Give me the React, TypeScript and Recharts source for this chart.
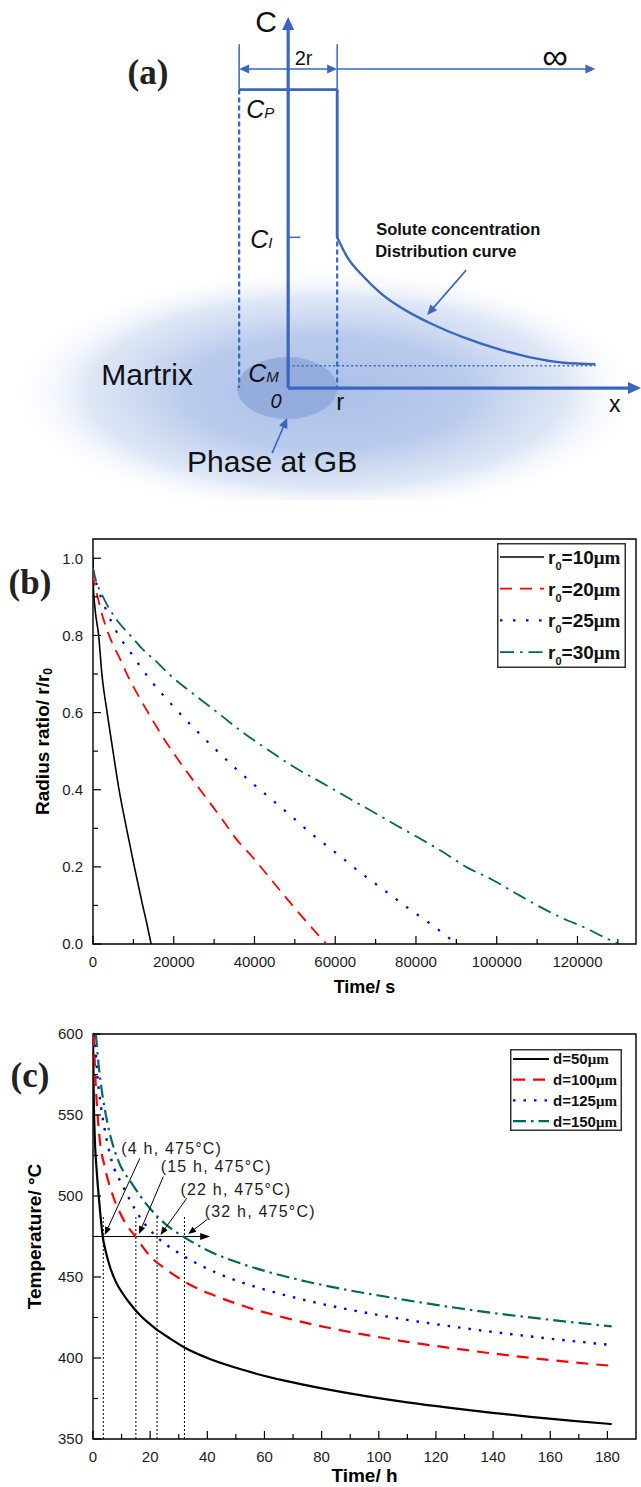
import React from 'react';
import {
  LineChart,
  Line,
  XAxis,
  YAxis,
  ReferenceLine,
  ReferenceDot,
  ReferenceArea,
} from 'recharts';

const SANS = '"Liberation Sans", Arial, Helvetica, sans-serif';
const SERIF = '"Liberation Serif", "Times New Roman", serif';
const BLUE = '#3a66c2';
const INK = '#1c1c1c';

// ---------- (a) schematic: x in units of r, C in units of C_P ----------
const C_P = 1;
const C_I = 0.505;
const C_M = 0.075;
const R = 1;
const C_AXIS_TOP = 1.243;
const X_AXIS_END = 7.2;
const SPAN_LEVEL = 1.069;
const SPAN_TICK_TOP = 1.152;
const INF_END = 6.27;

const SOLUTE_X = [1, 1.2, 1.54, 1.88, 2.22, 2.56, 2.9, 3.24, 3.58, 4.26, 4.94, 5.62, 6.27];
const SOLUTE_C = [0.505, 0.44, 0.373, 0.319, 0.278, 0.245, 0.217, 0.192, 0.17, 0.132, 0.103, 0.085, 0.08];

// ---------- (b) radius ratio vs time ----------
const B_RADII = [10, 20, 25, 30];
const R10_T = [0, 80, 500, 1400, 2200, 3500, 4950, 6450, 8300, 10250, 12300, 13400, 14400];
const R10_V = [1.0, 0.93, 0.87, 0.8, 0.7, 0.6, 0.5, 0.4, 0.3, 0.2, 0.1, 0.05, 0];
const R20_T = [0, 400, 1000, 2500, 4100, 6600, 8900, 11600, 14500, 17200, 20800, 24400, 28100, 31800, 35500, 39700, 43800, 47900, 52100, 55500, 57800];
const R20_V = [0.96, 0.93, 0.905, 0.845, 0.797, 0.741, 0.689, 0.637, 0.585, 0.538, 0.482, 0.43, 0.378, 0.326, 0.272, 0.223, 0.171, 0.119, 0.067, 0.027, 0];
const R25_T = [0, 830, 2900, 5800, 9700, 14000, 19200, 24600, 30600, 36400, 42400, 48400, 54100, 60100, 66000, 71800, 77800, 83600, 86600, 90000];
const R25_V = [0.97, 0.935, 0.875, 0.81, 0.75, 0.687, 0.624, 0.564, 0.502, 0.445, 0.391, 0.338, 0.286, 0.237, 0.187, 0.142, 0.095, 0.052, 0.029, 0];
const R30_T = [0, 800, 2070, 3300, 6200, 9500, 12400, 15700, 19000, 24400, 30600, 36800, 43400, 49600, 56200, 63500, 69300, 75100, 80900, 86600, 92400, 99000, 104800, 110600, 116300, 122100, 127100, 130200];
const R30_V = [0.975, 0.94, 0.909, 0.883, 0.836, 0.797, 0.763, 0.732, 0.698, 0.652, 0.602, 0.551, 0.503, 0.46, 0.421, 0.377, 0.343, 0.308, 0.274, 0.239, 0.2, 0.166, 0.131, 0.097, 0.067, 0.041, 0.015, 0];

const B_X_TICKS = [0, 10000, 20000, 30000, 40000, 50000, 60000, 70000, 80000, 90000, 100000, 110000, 120000, 130000];
const B_X_LABELS = [0, 20000, 40000, 60000, 80000, 100000, 120000];
const B_Y_TICKS = [0, 0.1, 0.2, 0.3, 0.4, 0.5, 0.6, 0.7, 0.8, 0.9, 1.0];
const B_Y_LABELS = [0, 0.2, 0.4, 0.6, 0.8, 1.0];
const B_X_MAX = 134500;
const B_Y_MAX = 1.05;

// ---------- (c) temperature vs time ----------
const C_SIZES = [50, 100, 125, 150];
const D50_H = [0, 0.2, 0.6, 1.2, 1.8, 2.5, 3.4, 4.5, 5.9, 8, 10.5, 13, 16.4, 22, 27, 32, 40, 53, 67, 82, 96, 110, 125, 139, 153, 168, 181.5];
const D50_T = [600, 568, 537, 518, 504, 490, 475, 465.5, 456.5, 447, 439.5, 433.5, 426.5, 418, 412, 406.5, 400, 392.4, 386, 380.6, 376.3, 372.6, 369.2, 366.3, 363.7, 361.2, 359.2];
const D100_H = [0.3, 0.7, 1.2, 2.35, 4.1, 7, 10.5, 15, 20, 26.3, 32.8, 43.3, 53, 67, 82, 96, 110, 125, 139, 153, 168, 181.5];
const D100_T = [600, 578, 561, 535, 518, 500, 486, 474.5, 462.8, 453.8, 446.3, 438, 431.9, 424.9, 418.8, 414.1, 410, 406.2, 403, 400.1, 397.3, 395.2];
const D125_H = [0.6, 1.5, 2.35, 4.1, 6.5, 10.5, 16.4, 22.5, 29.3, 37.4, 48, 60.8, 75, 89, 100, 110, 125, 139, 153, 167, 181.5];
const D125_T = [600, 575, 561, 541, 522, 506, 487, 474.5, 465.6, 457.4, 449.2, 441.9, 435.4, 430.1, 426.5, 423.5, 419.6, 416.3, 413.3, 410.6, 408];
const D150_H = [1.0, 1.9, 2.9, 5.3, 8.8, 13.5, 19.9, 25.8, 32, 39.8, 51.5, 63, 75, 89, 100, 120, 140, 160, 181.5];
const D150_T = [600, 582, 567.5, 543, 522, 508, 492.4, 482, 474.5, 466.7, 458.5, 452.3, 447.1, 442, 438.6, 432.8, 427.8, 423.6, 419.5];

const C_X_TICKS = [0, 10, 20, 30, 40, 50, 60, 70, 80, 90, 100, 110, 120, 130, 140, 150, 160, 170, 180];
const C_X_LABELS = [0, 20, 40, 60, 80, 100, 120, 140, 160, 180];
const C_Y_TICKS = [350, 375, 400, 425, 450, 475, 500, 525, 550, 575, 600];
const C_Y_LABELS = [350, 400, 450, 500, 550, 600];
const C_X_MAX = 190;

// dissolution-end marks at 475 °C
const MARK_TEMP = 475;
const MARK_HOURS = [3.6, 15, 22.4, 32];
const MARK_TOP = 488;
const MARK_ARROW_END = 41;
const MARK_LABELS = ['(4 h, 475°C)', '(15 h, 475°C)', '(22 h, 475°C)', '(32 h, 475°C)'];
const MARK_LABEL_H = [9.9, 23.7, 30.6, 39.1];
const MARK_LABEL_T = [529.4, 518.1, 504.1, 490.7];
const POINTER_FROM_H = [16.4, 24.6, 32.8, 40];
const POINTER_FROM_T = [523.3, 512, 498.6, 485.6];
const POINTER_TO_H = [4.1, 16.1, 23.6, 33.3];
const POINTER_TO_T = [476, 476.5, 476, 476.5];

type Pt = { x: number; y: number };
const zip = (xs: number[], ys: number[]): Pt[] => xs.map((x, i) => ({ x, y: ys[i] }));

type LineStyle = { color: string; width: number; dash?: string };
const B_STYLES: LineStyle[] = [
  { color: '#000000', width: 1.6 },
  { color: '#ff0000', width: 1.8, dash: '12 8' },
  { color: '#0000ff', width: 2.2, dash: '2.5 10.5' },
  { color: '#00695a', width: 1.8, dash: '14 6 2.5 6' },
];
const C_STYLES: LineStyle[] = [
  { color: '#000000', width: 2.2 },
  { color: '#ff0000', width: 2.2, dash: '12 8' },
  { color: '#0000ff', width: 2.4, dash: '2.5 8' },
  { color: '#00695a', width: 2.2, dash: '13 5 2.5 5' },
];

// ---------- helpers ----------
type ArrowOpts = { color: string; width: number; dash?: string; start?: boolean; end?: boolean; len?: number; half?: number };

function arrowShape(o: ArrowOpts) {
  const len = o.len ?? 10;
  const half = o.half ?? 4;
  return (p: any) => {
    const { x1, y1, x2, y2 } = p;
    const d = Math.hypot(x2 - x1, y2 - y1) || 1;
    const ux = (x2 - x1) / d;
    const uy = (y2 - y1) / d;
    const head = (tx: number, ty: number, sx: number, sy: number) => {
      const bx = tx - sx * len;
      const by = ty - sy * len;
      return `${tx},${ty} ${bx - sy * half},${by + sx * half} ${bx + sy * half},${by - sx * half}`;
    };
    const ax = o.start ? x1 + ux * len * 0.7 : x1;
    const ay = o.start ? y1 + uy * len * 0.7 : y1;
    const bx = o.end ? x2 - ux * len * 0.7 : x2;
    const by = o.end ? y2 - uy * len * 0.7 : y2;
    return (
      <g>
        <line x1={ax} y1={ay} x2={bx} y2={by} stroke={o.color} strokeWidth={o.width} strokeDasharray={o.dash} />
        {o.end && <polygon points={head(x2, y2, ux, uy)} fill={o.color} />}
        {o.start && <polygon points={head(x1, y1, -ux, -uy)} fill={o.color} />}
      </g>
    );
  };
}

function seg(key: string, x1: number, y1: number, x2: number, y2: number, o: ArrowOpts) {
  return (
    <ReferenceLine
      key={key}
      segment={[{ x: x1, y: y1 }, { x: x2, y: y2 }]}
      ifOverflow="visible"
      shape={arrowShape(o)}
    />
  );
}

function textAt(key: string, x: number, y: number, render: (cx: number, cy: number) => React.ReactElement) {
  return <ReferenceDot key={key} x={x} y={y} r={1} ifOverflow="visible" shape={(p: any) => render(p.cx, p.cy)} />;
}

function makeBottomTick(labels: number[], fmt: (v: number) => string) {
  return (p: any) => {
    const { x, y, payload } = p;
    const major = labels.includes(payload.value);
    return (
      <g>
        <line x1={x} x2={x} y1={y} y2={y - (major ? 8 : 5)} stroke="#000" strokeWidth={1.2} />
        {major && (
          <text x={x} y={y + 23} textAnchor="middle" fontSize={15} fontFamily={SANS} fill={INK}>
            {fmt(payload.value)}
          </text>
        )}
      </g>
    );
  };
}

function makeLeftTick(labels: number[], fmt: (v: number) => string) {
  return (p: any) => {
    const { x, y, payload } = p;
    const major = labels.includes(payload.value);
    return (
      <g>
        <line x1={x} x2={x + (major ? 8 : 5)} y1={y} y2={y} stroke="#000" strokeWidth={1.2} />
        {major && (
          <text x={x - 10} y={y} dy="0.36em" textAnchor="end" fontSize={15} fontFamily={SANS} fill={INK}>
            {fmt(payload.value)}
          </text>
        )}
      </g>
    );
  };
}

// ---------- (a) ----------
// ellipses are drawn inside the box that the reference area spans
function blobShape(p: any) {
  return (
    <g>
      <defs>
        <radialGradient id="matrixBlob" cx="50%" cy="50%" r="50%">
          <stop offset="0%" stopColor="#a6bce6" stopOpacity={0.95} />
          <stop offset="45%" stopColor="#b0c4ea" stopOpacity={0.88} />
          <stop offset="75%" stopColor="#c4d3ef" stopOpacity={0.55} />
          <stop offset="100%" stopColor="#ffffff" stopOpacity={0} />
        </radialGradient>
      </defs>
      <ellipse cx={p.x + p.width / 2} cy={p.y + p.height / 2} rx={p.width / 2} ry={p.height / 2} fill="url(#matrixBlob)" />
    </g>
  );
}

function phaseShape(p: any) {
  return (
    <ellipse
      cx={p.x + p.width / 2}
      cy={p.y + p.height / 2}
      rx={p.width / 2}
      ry={p.height / 2}
      fill="#8ea8da"
      fillOpacity={0.85}
    />
  );
}

function Schematic() {
  const thick = { color: BLUE, width: 3.2, len: 13, half: 6 };
  const rim = { color: BLUE, width: 2.8 };
  const dashed = { color: BLUE, width: 2.2, dash: '5 3' };
  const thin = { color: BLUE, width: 1.6, len: 10, half: 4.5 };
  const sub = (main: string, s: string, cx: number, cy: number) => (
    <text x={cx} y={cy} fontFamily={SANS} fontStyle="italic" fontSize={25} fill="#111">
      {main}
      <tspan fontSize={15}>{s}</tspan>
    </text>
  );
  return (
    <LineChart width={641} height={500} margin={{ top: 0, right: 0, bottom: 0, left: 0 }}>
      <XAxis type="number" dataKey="x" domain={[-5.88, 7.2]} hide allowDataOverflow />
      <YAxis type="number" domain={[-0.375, 1.3]} hide allowDataOverflow />
      <ReferenceArea x1={-5.7} x2={7.3} y1={-0.44} y2={0.41} ifOverflow="visible" shape={blobShape} />
      <ReferenceArea x1={-1.04} x2={1.0} y1={-0.104} y2={0.104} ifOverflow="visible" shape={phaseShape} />

      {seg('lDash', -R, C_P, -R, 0, dashed)}
      {seg('rDash', R, C_P, R, 0, dashed)}
      {seg('cm', 0, C_M, INF_END, C_M, { color: BLUE, width: 1.5, dash: '2 2.5' })}
      {seg('top', -R, C_P, R, C_P, rim)}
      {seg('rSolid', R, C_P, R, C_I, rim)}
      {seg('lTick', -R, C_P, -R, SPAN_TICK_TOP, { color: BLUE, width: 1.5 })}
      {seg('rTick', R, C_P, R, SPAN_TICK_TOP, { color: BLUE, width: 1.5 })}
      {seg('span', -R, SPAN_LEVEL, R, SPAN_LEVEL, { ...thin, start: true, end: true })}
      {seg('inf', R, SPAN_LEVEL, INF_END, SPAN_LEVEL, { ...thin, end: true })}
      {seg('ci', 0, C_I, 0.25, C_I, { color: BLUE, width: 1.5 })}
      {seg('cAxis', 0, 0, 0, C_AXIS_TOP, { ...thick, end: true })}
      {seg('xAxis', 0, 0, X_AXIS_END, 0, { ...thick, end: true })}
      {seg('curvePtr', 3.633, 0.395, 2.837, 0.245, { ...thin, end: true })}
      {seg('phasePtr', -0.327, -0.218, -0.02, -0.1005, { ...thin, end: true })}

      <Line
        data={zip(SOLUTE_X, SOLUTE_C)}
        dataKey="y"
        type="monotone"
        stroke={BLUE}
        strokeWidth={2.4}
        dot={false}
        activeDot={false}
        isAnimationActive={false}
      />

      {textAt('C', -0.449, 1.229, (cx, cy) => (
        <text x={cx} y={cy} textAnchor="middle" dominantBaseline="central" fontFamily={SANS} fontSize={30} fill="#111">C</text>
      ))}
      {textAt('2r', 0.316, 1.107, (cx, cy) => (
        <text x={cx} y={cy} textAnchor="middle" dominantBaseline="central" fontFamily={SANS} fontSize={20} fill="#111">2r</text>
      ))}
      {textAt('inf', 5.449, 1.111, (cx, cy) => (
        <text x={cx} y={cy} textAnchor="middle" dominantBaseline="central" fontFamily={SANS} fontSize={36} fill="#111">∞</text>
      ))}
      {textAt('cp', -0.857, 0.9045, (cx, cy) => sub('C', 'P', cx, cy))}
      {textAt('ci', -0.776, 0.469, (cx, cy) => sub('C', 'I', cx, cy))}
      {textAt('cm', -0.816, 0.02, (cx, cy) => sub('C', 'M', cx, cy))}
      {textAt('o', -0.245, -0.067, (cx, cy) => (
        <text x={cx} y={cy} textAnchor="middle" fontFamily={SANS} fontStyle="italic" fontSize={20} fill="#111">0</text>
      ))}
      {textAt('r', 1.061, -0.0737, (cx, cy) => (
        <text x={cx} y={cy} textAnchor="middle" fontFamily={SANS} fontSize={24} fill="#111">r</text>
      ))}
      {textAt('x', 6.663, -0.0804, (cx, cy) => (
        <text x={cx} y={cy} textAnchor="middle" fontFamily={SANS} fontSize={23} fill="#111">x</text>
      ))}
      {textAt('matrix', -2.878, 0.01, (cx, cy) => (
        <text x={cx} y={cy} textAnchor="middle" fontFamily={SANS} fontSize={30} fill="#111">Martrix</text>
      ))}
      {textAt('phase', -0.327, -0.281, (cx, cy) => (
        <text x={cx} y={cy} textAnchor="middle" fontFamily={SANS} fontSize={30} fill="#111">Phase at GB</text>
      ))}
      {textAt('solute', 1.796, 0.5126, (cx, cy) => (
        <text x={cx} y={cy} fontFamily={SANS} fontWeight="bold" fontSize={16.5} fill="#111">Solute concentration</text>
      ))}
      {textAt('dist', 1.776, 0.4389, (cx, cy) => (
        <text x={cx} y={cy} fontFamily={SANS} fontWeight="bold" fontSize={16.5} fill="#111">Distribution curve</text>
      ))}
    </LineChart>
  );
}

// ---------- (b) ----------
function ShrinkChart() {
  const series = [zip(R10_T, R10_V), zip(R20_T, R20_V), zip(R25_T, R25_V), zip(R30_T, R30_V)];
  return (
    <LineChart width={641} height={500} margin={{ top: 39, right: 5, bottom: 0, left: 0 }}>
      <XAxis
        type="number"
        dataKey="x"
        domain={[0, B_X_MAX]}
        ticks={B_X_TICKS}
        interval={0}
        height={56}
        axisLine={false}
        tickLine={false}
        tickSize={0}
        tickMargin={0}
        allowDataOverflow
        tick={makeBottomTick(B_X_LABELS, (v) => String(v))}
        label={{
          content: (p: any) => (
            <text
              x={p.viewBox.x + p.viewBox.width / 2}
              y={p.viewBox.y + 49}
              textAnchor="middle"
              fontFamily={SANS}
              fontWeight="bold"
              fontSize={18}
              fill="#000"
            >
              Time/ s
            </text>
          ),
        }}
      />
      <YAxis
        type="number"
        domain={[0, B_Y_MAX]}
        ticks={B_Y_TICKS}
        interval={0}
        width={93}
        axisLine={false}
        tickLine={false}
        tickSize={0}
        tickMargin={0}
        allowDataOverflow
        tick={makeLeftTick(B_Y_LABELS, (v) => v.toFixed(1))}
        label={{
          content: (p: any) => (
            <text
              transform={`translate(${p.viewBox.x + 42}, ${p.viewBox.y + p.viewBox.height / 2}) rotate(-90)`}
              textAnchor="middle"
              dominantBaseline="central"
              fontFamily={SANS}
              fontWeight="bold"
              fontSize={19}
              fill="#000"
            >
              Radius ratio/ r/r
              <tspan fontSize={12} dy={6}>0</tspan>
            </text>
          ),
        }}
      />
      <ReferenceArea x1={0} x2={B_X_MAX} y1={0} y2={B_Y_MAX} fill="none" stroke="#000" strokeWidth={1.4} ifOverflow="visible" />
      {series.map((d, i) => (
        <Line
          key={B_RADII[i]}
          data={d}
          dataKey="y"
          type="monotone"
          stroke={B_STYLES[i].color}
          strokeWidth={B_STYLES[i].width}
          strokeDasharray={B_STYLES[i].dash}
          dot={false}
          activeDot={false}
          isAnimationActive={false}
        />
      ))}
    </LineChart>
  );
}

// ---------- (c) ----------
function TempChart() {
  const series = [zip(D50_H, D50_T), zip(D100_H, D100_T), zip(D125_H, D125_T), zip(D150_H, D150_T)];
  const black = { color: '#000', width: 1 };
  const pointer = { color: '#000', width: 1, end: true, len: 8, half: 3.2 };
  return (
    <LineChart width={641} height={487} margin={{ top: 34, right: 5, bottom: 0, left: 0 }}>
      <XAxis
        type="number"
        dataKey="x"
        domain={[0, C_X_MAX]}
        ticks={C_X_TICKS}
        interval={0}
        height={48}
        axisLine={false}
        tickLine={false}
        tickSize={0}
        tickMargin={0}
        allowDataOverflow
        tick={makeBottomTick(C_X_LABELS, (v) => String(v))}
        label={{
          content: (p: any) => (
            <text
              x={p.viewBox.x + p.viewBox.width / 2}
              y={p.viewBox.y + 43}
              textAnchor="middle"
              fontFamily={SANS}
              fontWeight="bold"
              fontSize={19}
              fill="#000"
            >
              Time/ h
            </text>
          ),
        }}
      />
      <YAxis
        type="number"
        domain={[350, 600]}
        ticks={C_Y_TICKS}
        interval={0}
        width={93}
        axisLine={false}
        tickLine={false}
        tickSize={0}
        tickMargin={0}
        allowDataOverflow
        tick={makeLeftTick(C_Y_LABELS, (v) => String(v))}
        label={{
          content: (p: any) => (
            <text
              transform={`translate(${p.viewBox.x + 34}, ${p.viewBox.y + p.viewBox.height / 2}) rotate(-90)`}
              textAnchor="middle"
              dominantBaseline="central"
              fontFamily={SANS}
              fontWeight="bold"
              fontSize={19}
              fill="#000"
            >
              Temperature/ °C
            </text>
          ),
        }}
      />
      <ReferenceArea x1={0} x2={C_X_MAX} y1={350} y2={600} fill="none" stroke="#000" strokeWidth={1.4} ifOverflow="visible" />
      {MARK_HOURS.map((h) => seg(`v${h}`, h, 350, h, MARK_TOP, { ...black, dash: '2 2' }))}
      {seg('h475', 0, MARK_TEMP, MARK_ARROW_END, MARK_TEMP, { ...pointer, len: 10, half: 3.5 })}
      {series.map((d, i) => (
        <Line
          key={C_SIZES[i]}
          data={d}
          dataKey="y"
          type="monotone"
          stroke={C_STYLES[i].color}
          strokeWidth={C_STYLES[i].width}
          strokeDasharray={C_STYLES[i].dash}
          dot={false}
          activeDot={false}
          isAnimationActive={false}
        />
      ))}
      {POINTER_FROM_H.map((h, i) =>
        seg(`p${i}`, h, POINTER_FROM_T[i], POINTER_TO_H[i], POINTER_TO_T[i], pointer)
      )}
      {MARK_LABELS.map((t, i) =>
        textAt(`l${i}`, MARK_LABEL_H[i], MARK_LABEL_T[i], (cx, cy) => (
          <text
            x={cx}
            y={cy}
            dominantBaseline="central"
            fontFamily={SANS}
            fontSize={16}
            letterSpacing={1.2}
            fill={INK}
          >
            {t}
          </text>
        ))
      )}
    </LineChart>
  );
}

// ---------- legends and tags ----------
function LegendBox({
  left, top, width, height, rowTop, rowGap, sampleEnd, textX, fontSize, styles, render,
}: {
  left: number; top: number; width: number; height: number; rowTop: number; rowGap: number;
  sampleEnd: number; textX: number; fontSize: number; styles: LineStyle[];
  render: (i: number) => React.ReactNode;
}) {
  return (
    <svg width={width} height={height} style={{ position: 'absolute', left, top, overflow: 'visible' }}>
      <rect x={0.75} y={0.75} width={width - 1.5} height={height - 1.5} fill="#fff" stroke="#333" strokeWidth={1.5} />
      {styles.map((s, i) => {
        const y = rowTop + i * rowGap;
        return (
          <g key={i}>
            <line x1={3} x2={sampleEnd} y1={y} y2={y} stroke={s.color} strokeWidth={s.width} strokeDasharray={s.dash} />
            <text x={textX} y={y} dy="0.36em" fontFamily={SANS} fontWeight="bold" fontSize={fontSize} fill="#111">
              {render(i)}
            </text>
          </g>
        );
      })}
    </svg>
  );
}

function PanelTag({ text, cx, cy }: { text: string; cx: number; cy: number }) {
  return (
    <div
      style={{
        position: 'absolute',
        left: cx,
        top: cy,
        transform: 'translate(-50%, -50%)',
        fontFamily: SERIF,
        fontWeight: 'bold',
        fontSize: 35,
        lineHeight: 1,
        color: '#222',
        whiteSpace: 'nowrap',
      }}
    >
      {text}
    </div>
  );
}

export default function App() {
  return (
    <div style={{ position: 'relative', width: 641, height: 1487, background: '#fff', overflow: 'hidden' }}>
      <style>{'html,body{margin:0;padding:0;background:#fff;overflow:hidden;}'}</style>
      <div style={{ position: 'absolute', left: 0, top: 0 }}>
        <Schematic />
      </div>
      <div style={{ position: 'absolute', left: 0, top: 500 }}>
        <ShrinkChart />
      </div>
      <div style={{ position: 'absolute', left: 0, top: 1000 }}>
        <TempChart />
      </div>

      <PanelTag text="(a)" cx={148} cy={72} />
      <PanelTag text="(b)" cx={30} cy={582} />
      <PanelTag text="(c)" cx={30} cy={1075} />

      <LegendBox
        left={497}
        top={543}
        width={129}
        height={125}
        rowTop={14}
        rowGap={31.7}
        sampleEnd={47}
        textX={51}
        fontSize={19}
        styles={B_STYLES}
        render={(i) => (
          <>
            r<tspan fontSize={11} dy={6}>0</tspan>
            <tspan dy={-6}>={B_RADII[i]}</tspan>
            <tspan fontFamily={SERIF}>μm</tspan>
          </>
        )}
      />
      <LegendBox
        left={510}
        top={1049}
        width={112}
        height={82}
        rowTop={10}
        rowGap={20.7}
        sampleEnd={39}
        textX={43}
        fontSize={15}
        styles={C_STYLES}
        render={(i) => (
          <>
            d={C_SIZES[i]}
            <tspan fontFamily={SERIF}>μm</tspan>
          </>
        )}
      />
    </div>
  );
}
